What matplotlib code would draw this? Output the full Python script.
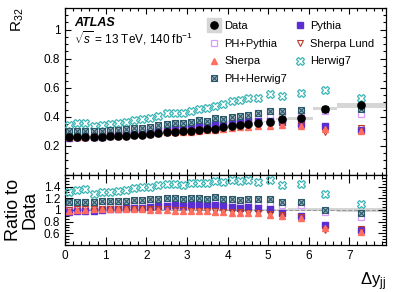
import matplotlib
matplotlib.use("Agg")
import matplotlib.pyplot as plt
import numpy as np
from matplotlib.lines import Line2D
from matplotlib.legend_handler import HandlerTuple
from matplotlib.ticker import MultipleLocator, FormatStrFormatter

plt.rcParams['font.family'] = ['Liberation Sans', 'DejaVu Sans']
plt.rcParams['mathtext.fontset'] = 'custom'
plt.rcParams['mathtext.rm'] = 'Liberation Sans'
plt.rcParams['mathtext.it'] = 'Liberation Sans:italic'

# bin edges in delta y_jj
edges = [0.0, 0.2, 0.4, 0.6, 0.8, 1.0, 1.2, 1.4, 1.6, 1.8, 2.0, 2.2, 2.4, 2.6, 2.8,
         3.0, 3.2, 3.4, 3.6, 3.8, 4.0, 4.2, 4.4, 4.6, 4.9, 5.2, 5.5, 6.1, 6.7, 7.9]

data = [0.264, 0.263, 0.263, 0.263, 0.264, 0.266, 0.268, 0.271, 0.274, 0.278, 0.282, 0.287,
        0.292, 0.296, 0.299, 0.303, 0.310, 0.314, 0.319, 0.328, 0.338, 0.346, 0.352,
        0.360, 0.367, 0.383, 0.390, 0.456, 0.480]
data_err = [0.003] * 23 + [0.004, 0.005, 0.007, 0.010, 0.012, 0.018]

# ratios MC / data
r_pythia = [0.97, 0.98, 0.99, 0.99, 1.00, 1.01, 1.02, 1.03, 1.04, 1.04, 1.05, 1.06, 1.07,
            1.08, 1.07, 1.08, 1.09, 1.08, 1.09, 1.06, 1.05, 1.04, 1.05, 1.04, 1.01, 0.95,
            0.90, 0.74, 0.65]
r_phpythia = [1.07, 1.07, 1.07, 1.08, 1.08, 1.09, 1.09, 1.10, 1.10, 1.11, 1.11, 1.12, 1.13,
              1.13, 1.12, 1.13, 1.14, 1.12, 1.14, 1.11, 1.10, 1.10, 1.10, 1.10, 1.11, 1.08,
              1.08, 0.97, 0.88]
r_sherpa = [0.99, 1.00, 1.00, 1.01, 1.01, 1.01, 1.01, 1.01, 1.01, 1.01, 1.00, 1.00, 1.00,
            0.99, 0.99, 0.98, 0.98, 0.98, 0.97, 0.96, 0.95, 0.95, 0.94, 0.94, 0.92, 0.90,
            0.87, 0.69, 0.63]
r_sherpalund = [1.00, 1.01, 1.01, 1.01, 1.02, 1.02, 1.02, 1.02, 1.02, 1.02, 1.01, 1.01, 1.01,
                1.00, 1.00, 0.99, 0.99, 0.99, 0.98, 0.97, 0.96, 0.96, 0.95, 0.95, 0.93, 0.91,
                0.88, 0.65, 0.68]
r_herwig7 = [1.30, 1.35, 1.36, 1.28, 1.30, 1.31, 1.33, 1.35, 1.38, 1.39, 1.40, 1.42, 1.45,
             1.45, 1.43, 1.46, 1.46, 1.47, 1.49, 1.48, 1.51, 1.49, 1.51, 1.48, 1.51, 1.42,
             1.44, 1.28, 1.10]
r_phherwig7 = [1.14, 1.14, 1.14, 1.14, 1.15, 1.15, 1.16, 1.16, 1.17, 1.17, 1.18, 1.19, 1.21,
               1.21, 1.19, 1.21, 1.21, 1.19, 1.22, 1.18, 1.18, 1.17, 1.18, 1.18, 1.19, 1.14,
               1.14, 1.00, 0.95]

edges = np.array(edges)
x = (edges[:-1] + edges[1:]) / 2
w = np.diff(edges)
data = np.array(data)
data_err = np.array(data_err)

c_data_band = '#d6d6d6'
c_pythia = '#5a2ed0'
c_phpythia = '#d89cff'
c_sherpa = '#ff6e5e'
c_sherpalund = '#b83a2a'
c_herwig7 = '#3cb6b6'
c_phh7_face = '#9fb4c0'
c_phh7_edge = '#2c5a6a'

fig = plt.figure(figsize=(4.07, 2.92), dpi=100)
ax1 = fig.add_axes([0.160, 0.401, 0.788, 0.572])
ax2 = fig.add_axes([0.160, 0.161, 0.788, 0.240], sharex=ax1)

ms = 4.6
styles = [
    (r_phpythia, dict(marker='s', ls='none', ms=ms, mfc='none', mec=c_phpythia, mew=0.9), 3),
    (r_pythia, dict(marker='s', ls='none', ms=ms, color=c_pythia), 4),
    (r_sherpalund, dict(marker='v', ls='none', ms=ms + 0.4, mfc='none', mec=c_sherpalund, mew=0.8), 5),
    (r_sherpa, dict(marker='^', ls='none', ms=ms + 0.4, color=c_sherpa), 6),
    (r_herwig7, dict(marker='X', ls='none', ms=ms + 0.7, mfc='none', mec=c_herwig7, mew=0.9), 7),
]

for ax, sc in [(ax1, 'abs'), (ax2, 'ratio')]:
    if sc == 'abs':
        ax.bar(x, 2 * data_err, width=w, bottom=data - data_err, color=c_data_band, zorder=1)
    else:
        rel = data_err / data
        ax.bar(x, 2 * rel, width=w, bottom=1 - rel, color=c_data_band, zorder=1)
        ax.axhline(1, color='#999999', ls='--', lw=0.8, zorder=1.5)
    for r, st, z in styles:
        r = np.array(r)
        y = r * data if sc == 'abs' else r
        ax.plot(x, y, zorder=z, **st)
    r = np.array(r_phherwig7)
    y = r * data if sc == 'abs' else r
    ax.plot(x, y, marker='s', ls='none', ms=ms + 0.4, mfc=c_phh7_face, mec=c_phh7_edge,
            mew=0.8, zorder=8)
    ax.plot(x, y, marker='x', ls='none', ms=ms - 0.6, color=c_phh7_edge, mew=0.8, zorder=8.5)
    if sc == 'abs':
        ax.plot(x, data, marker='o', ls='none', ms=ms + 0.6, color='black', zorder=10)

for ax in (ax1, ax2):
    ax.set_xlim(0, 7.9)
    ax.xaxis.set_major_locator(MultipleLocator(1))
    ax.xaxis.set_minor_locator(MultipleLocator(0.2))
    ax.tick_params(which='both', direction='in', top=True, right=True, labelsize=8.5,
                   width=0.8)
    for s in ax.spines.values():
        s.set_linewidth(0.9)

ax1.set_ylim(0, 1.15)
ax1.yaxis.set_major_locator(MultipleLocator(0.2))
ax1.yaxis.set_minor_locator(MultipleLocator(0.05))
ax1.yaxis.set_major_formatter(FormatStrFormatter('%g'))
ax1.tick_params(which='major', length=4.5)
ax1.tick_params(which='minor', length=2.3)
ax1.tick_params(axis='x', labelbottom=False)
ax1.set_yticks([0.2, 0.4, 0.6, 0.8, 1.0])

ax2.set_ylim(0.4, 1.6)
ax2.set_yticks([0.6, 0.8, 1.0, 1.2, 1.4])
ax2.yaxis.set_minor_locator(MultipleLocator(0.05))
ax2.yaxis.set_major_formatter(FormatStrFormatter('%g'))
ax2.tick_params(which='major', length=6)
ax2.tick_params(which='minor', length=3)

ax1.set_ylabel(r'R$_{32}$', fontsize=11, loc='top', labelpad=13)
ax2.set_ylabel('Ratio to\nData', fontsize=13, linespacing=0.95, labelpad=4)
ax2.set_xlabel(r'$\Delta$y$_{\rm jj}$', fontsize=12, loc='right', labelpad=6)

ax1.text(0.028, 0.907, 'ATLAS', transform=ax1.transAxes, fontsize=9, va='center',
         fontweight='bold', fontstyle='italic')
ax1.text(0.028, 0.818, r'$\sqrt{s}$ = 13 TeV, 140 fb$^{-1}$', transform=ax1.transAxes,
         fontsize=8.5, va='center')

h_data = (Line2D([], [], marker='s', ls='none', ms=9.5, color=c_data_band),
          Line2D([], [], marker='o', ls='none', ms=ms + 0.6, color='black'))
h_phpy = Line2D([], [], **styles[0][1])
h_py = Line2D([], [], **styles[1][1])
h_shl = Line2D([], [], **styles[2][1])
h_sh = Line2D([], [], **styles[3][1])
h_h7 = Line2D([], [], **styles[4][1])
h_phh7 = (Line2D([], [], marker='s', ls='none', ms=ms + 0.4, mfc=c_phh7_face, mec=c_phh7_edge, mew=0.8),
          Line2D([], [], marker='x', ls='none', ms=ms - 0.6, color=c_phh7_edge, mew=0.8))
handles = [h_data, h_phpy, h_sh, h_phh7, h_py, h_shl, h_h7]
labels = ['Data', 'PH+Pythia', 'Sherpa', 'PH+Herwig7', 'Pythia', 'Sherpa Lund', 'Herwig7']
ax1.legend(handles, labels, ncol=2, loc='upper left', bbox_to_anchor=(0.433, 0.946),
           borderaxespad=0, frameon=False, fontsize=8, handlelength=1.0,
           handletextpad=0.4, columnspacing=0.7, labelspacing=0.68,
           handler_map={tuple: HandlerTuple(ndivide=1, pad=0)})

fig.savefig('out.png', dpi=100)
